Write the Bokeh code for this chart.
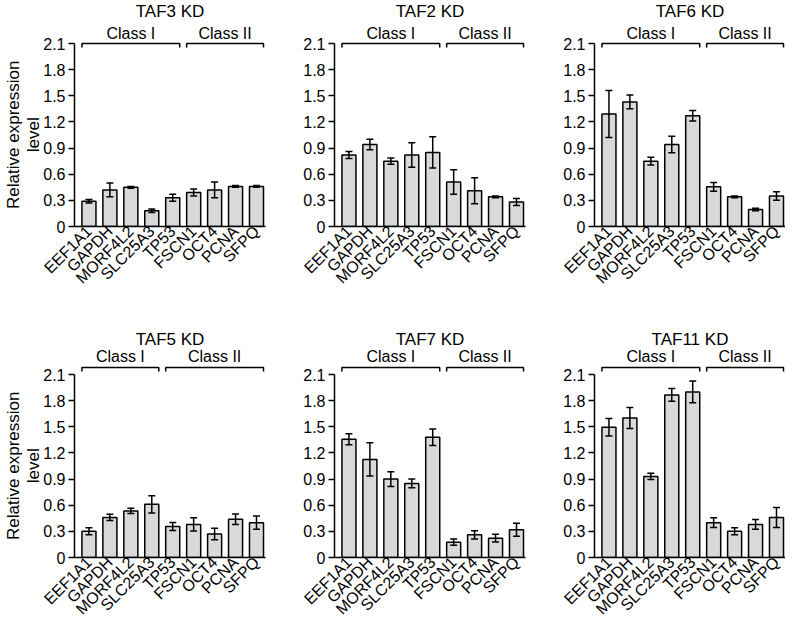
from math import pi
from bokeh.plotting import figure
from bokeh.models import (Range1d, FixedTicker, Whisker, TeeHead,
                          ColumnDataSource, Label, LinearAxis)
from bokeh.layouts import column, row
from bokeh.embed import file_html
from bokeh.resources import INLINE

# ---------------- data ----------------
genes = ["EEF1A1", "GAPDH", "MORF4L2", "SLC25A3", "TP53",
         "FSCN1", "OCT4", "PCNA", "SFPQ"]
yticks = [0, 0.3, 0.6, 0.9, 1.2, 1.5, 1.8, 2.1]
ytick_labels = ["0", "0.3", "0.6", "0.9", "1.2", "1.5", "1.8", "2.1"]
class_names = ["Class I", "Class II"]
y_label_lines = ["Relative expression", "level"]

titles = ["TAF3 KD", "TAF2 KD", "TAF6 KD", "TAF5 KD", "TAF7 KD", "TAF11 KD"]
# number of genes in the "Class I" bracket for each panel
n_class1 = [5, 5, 5, 4, 5, 5]

taf3_mean = [0.29, 0.42, 0.45, 0.18, 0.33, 0.39, 0.42, 0.46, 0.46]
taf3_err = [0.02, 0.08, 0.01, 0.02, 0.04, 0.04, 0.09, 0.01, 0.01]

taf2_mean = [0.82, 0.94, 0.75, 0.82, 0.85, 0.51, 0.41, 0.34, 0.28]
taf2_err = [0.04, 0.06, 0.035, 0.14, 0.18, 0.14, 0.15, 0.01, 0.04]

taf6_mean = [1.29, 1.43, 0.75, 0.94, 1.27, 0.455, 0.34, 0.195, 0.35]
taf6_err = [0.27, 0.08, 0.045, 0.095, 0.06, 0.05, 0.01, 0.015, 0.05]

taf5_mean = [0.30, 0.46, 0.535, 0.61, 0.356, 0.38, 0.27, 0.44, 0.40]
taf5_err = [0.04, 0.035, 0.03, 0.10, 0.045, 0.076, 0.065, 0.06, 0.075]

taf7_mean = [1.356, 1.126, 0.90, 0.85, 1.38, 0.176, 0.26, 0.222, 0.318]
taf7_err = [0.063, 0.19, 0.084, 0.05, 0.096, 0.036, 0.048, 0.044, 0.075]

taf11_mean = [1.494, 1.60, 0.93, 1.866, 1.90, 0.40, 0.30, 0.38, 0.46]
taf11_err = [0.10, 0.12, 0.036, 0.073, 0.125, 0.057, 0.04, 0.057, 0.115]

means = [taf3_mean, taf2_mean, taf6_mean, taf5_mean, taf7_mean, taf11_mean]
errs = [taf3_err, taf2_err, taf6_err, taf5_err, taf7_err, taf11_err]

# ---------------- layout constants ----------------
FONT = "Liberation Sans"
FRAME_W = 191
GAP = 43                           # px between frame top and the 2.1 line
AXIS_PX = 183                      # px from 0 to 2.1
FRAME_H = GAP + AXIS_PX
YMAX = 2.1
PX = AXIS_PX / YMAX
X0, X1 = -0.69, 8.43
BAR_W = 0.67
# the axis label is centred on the whole frame; trailing no-break spaces move
# the visible text down so it is centred on the 0..2.1 axis instead
LABEL_PAD = "\u00a0" * 9

# per-row offsets (px above the 2.1 line): title, class label, bracket
ROW_OFFS = [(32, 10, 0), (35, 18, 7)]


def style_label(ax, text):
    ax.axis_label = text + LABEL_PAD
    ax.axis_label_text_font = FONT
    ax.axis_label_text_font_size = "17px"
    ax.axis_label_text_font_style = "normal"
    ax.axis_label_text_color = "black"


def make_panel(idx, col, rowi, bottom_border):
    mean, err = means[idx], errs[idx]
    xs = list(range(len(genes)))
    src = ColumnDataSource(dict(
        x=xs, top=mean,
        lo=[m - e for m, e in zip(mean, err)],
        hi=[m + e for m, e in zip(mean, err)],
    ))
    p = figure(frame_width=FRAME_W, frame_height=FRAME_H,
               x_range=Range1d(X0, X1),
               y_range=Range1d(0, YMAX + GAP / PX),
               output_backend="svg", toolbar_location=None,
               min_border_left=68 if col == 0 else 59,
               min_border_right=0 if col == 2 else 10,
               min_border_top=0, min_border_bottom=bottom_border)
    p.outline_line_color = None
    p.xgrid.visible = False
    p.ygrid.visible = False
    p.background_fill_color = "white"

    # y axis
    ya = p.yaxis[0]
    ya.ticker = FixedTicker(ticks=yticks)
    ya.major_label_overrides = {t: l for t, l in zip(yticks, ytick_labels)}
    ya.bounds = (0, YMAX)
    ya.major_tick_out = 6
    ya.major_tick_in = 0
    ya.minor_tick_out = 0
    ya.minor_tick_in = 0
    ya.axis_line_width = 1.5
    ya.major_tick_line_width = 1.5
    ya.major_label_standoff = 3
    ya.major_label_text_font = FONT
    ya.major_label_text_font_size = "16px"
    ya.major_label_text_color = "black"
    if col == 0:
        # second line ("level") on the main axis, first line on an outer axis
        style_label(ya, y_label_lines[1])
        ya.axis_label_standoff = -3
        outer = LinearAxis(ticker=FixedTicker(ticks=[]), bounds=(0, YMAX),
                           axis_line_color=None, major_tick_out=0,
                           major_tick_in=0, minor_tick_out=0, minor_tick_in=0,
                           major_label_standoff=0, axis_label_standoff=-1)
        style_label(outer, y_label_lines[0])
        p.add_layout(outer, "left")

    # x axis
    xa = p.xaxis[0]
    xa.ticker = FixedTicker(ticks=xs)
    xa.major_label_overrides = {i: g for i, g in zip(xs, genes)}
    xa.major_label_orientation = pi / 4
    xa.major_tick_out = 0
    xa.major_tick_in = 0
    xa.minor_tick_out = 0
    xa.minor_tick_in = 0
    xa.axis_line_width = 1.5
    xa.major_label_standoff = 2
    xa.major_label_text_font = FONT
    xa.major_label_text_font_size = "16px"
    xa.major_label_text_color = "black"

    # bars + error bars (error bars drawn on top of the bars)
    p.vbar(x="x", top="top", width=BAR_W, source=src,
           fill_color="#d9d9d9", line_color="black", line_width=1.5)
    p.add_layout(Whisker(source=src, base="x", lower="lo", upper="hi",
                         level="overlay",
                         line_color="black", line_width=1.5,
                         upper_head=TeeHead(size=7, line_color="black", line_width=1.5),
                         lower_head=TeeHead(size=7, line_color="black", line_width=1.5)))

    t_off, c_off, b_off = ROW_OFFS[rowi]

    # class brackets
    n1 = n_class1[idx]
    groups = [(0, n1 - 1), (n1, len(genes) - 1)]
    yb = YMAX + b_off / PX
    yd = yb - 4 / PX
    bxs, bys = [], []
    for (i0, i1), name in zip(groups, class_names):
        a, b = i0 - BAR_W / 2, i1 + BAR_W / 2
        bxs.append([a, a, b, b])
        bys.append([yd, yb, yb, yd])
        p.add_layout(Label(x=(a + b) / 2, y=YMAX + c_off / PX, text=name,
                           text_align="center", text_baseline="middle",
                           text_font=FONT, text_font_size="16px",
                           text_color="black"))
    p.multi_line(xs=bxs, ys=bys, line_color="black", line_width=1.5)

    # panel title
    p.add_layout(Label(x=(X0 + X1) / 2, y=YMAX + t_off / PX, text=titles[idx],
                       text_align="center", text_baseline="middle",
                       text_font=FONT, text_font_size="17px", text_color="black"))
    return p


top = [make_panel(i, i, 0, 105) for i in range(3)]
bot = [make_panel(i + 3, i, 1, 62) for i in range(3)]
layout = column(row(*top), row(*bot))

open("out.html", "w").write(file_html(layout, INLINE))
